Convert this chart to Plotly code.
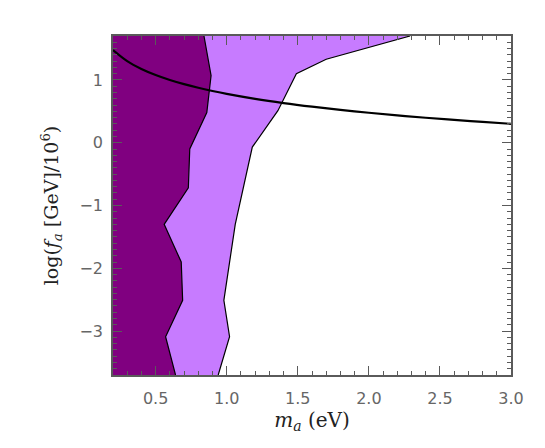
import plotly.graph_objects as go

# -----------------------------------------------------
# Data
# -----------------------------------------------------

# dark region right-hand boundary (m_a, log f_a)
dark_m = [0.84, 0.86, 0.89, 0.86, 0.74, 0.73, 0.56, 0.68, 0.69, 0.57, 0.64]
dark_f = [1.70, 1.43, 1.07, 0.48, -0.10, -0.72, -1.30, -1.90, -2.51, -3.09, -3.70]

# light region right-hand boundary
light_m = [2.29, 1.70, 1.49, 1.36, 1.18, 1.06, 0.98, 1.02, 0.94]
light_f = [1.70, 1.33, 1.10, 0.51, -0.07, -1.30, -2.51, -3.09, -3.70]

# black curve
curve_m = [0.2, 0.3, 0.4, 0.5, 0.6, 0.7, 0.8, 0.9, 1.0, 1.2, 1.4,
           1.6, 1.8, 2.0, 2.2, 2.4, 2.6, 2.8, 3.0]
curve_f = [1.477, 1.301, 1.176, 1.079, 1.000, 0.933, 0.875, 0.824, 0.778,
           0.699, 0.632, 0.574, 0.523, 0.477, 0.436, 0.398, 0.363, 0.331, 0.301]

DARK = "#800080"
LIGHT = "#C77BFF"
AXIS = "#5a5a5a"

# -----------------------------------------------------
# Figure
# -----------------------------------------------------

fig = go.Figure()

fig.add_trace(
    go.Scatter(
        x=light_m, y=light_f,
        mode="lines",
        fill="tozerox",
        fillcolor=LIGHT,
        line=dict(color="black", width=1.2),
        showlegend=False,
    )
)

fig.add_trace(
    go.Scatter(
        x=dark_m, y=dark_f,
        mode="lines",
        fill="tozerox",
        fillcolor=DARK,
        line=dict(color="black", width=1.2),
        showlegend=False,
    )
)

fig.add_trace(
    go.Scatter(
        x=curve_m, y=curve_f,
        mode="lines",
        line=dict(color="black", width=2.2, shape="spline"),
        showlegend=False,
    )
)

# -----------------------------------------------------
# Layout
# (page body adds an 8px offset, so margins are shifted)
# -----------------------------------------------------

fig.update_layout(
    width=545,
    height=448,
    margin=dict(l=105, r=42, t=28, b=81),
    paper_bgcolor="white",
    plot_bgcolor="white",
    font=dict(family="DejaVu Sans", color="#666666", size=16),
)

fig.update_xaxes(
    range=[0.2, 3.0],
    dtick=0.5,
    tick0=0.5,
    tickformat=".1f",
    ticks="inside",
    ticklen=9,
    tickwidth=1,
    tickcolor=AXIS,
    minor=dict(dtick=0.1, ticks="inside", ticklen=4, tickcolor=AXIS),
    showline=True,
    linecolor=AXIS,
    linewidth=1.5,
    mirror="allticks",
    showgrid=False,
    zeroline=False,
    ticklabelstandoff=8,
    title=dict(
        text="<i>m</i><sub><i>a</i></sub> (eV)",
        font=dict(family="DejaVu Serif", size=20, color="#222222"),
        standoff=2,
    ),
)

fig.update_yaxes(
    range=[-3.7, 1.7],
    dtick=1,
    tick0=0,
    ticks="inside",
    ticklen=9,
    tickwidth=1,
    tickcolor=AXIS,
    minor=dict(dtick=0.1, ticks="inside", ticklen=4, tickcolor=AXIS),
    showline=True,
    linecolor=AXIS,
    linewidth=1.5,
    mirror="allticks",
    showgrid=False,
    zeroline=False,
    ticklabelstandoff=5,
    title=dict(
        text="log(<i>f</i><sub><i>a</i></sub> [GeV]/10<sup>6</sup>)",
        font=dict(family="DejaVu Serif", size=19, color="#222222"),
        standoff=16,
    ),
)

fig.write_html("out.html")
